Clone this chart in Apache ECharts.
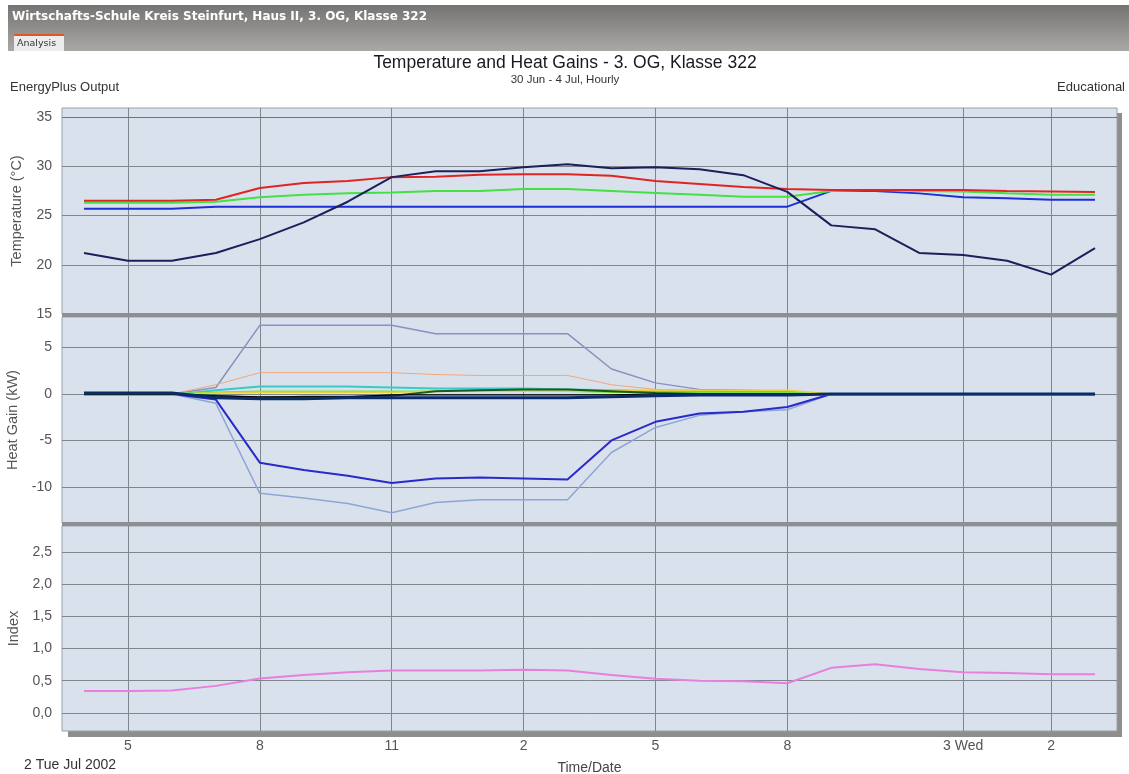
<!DOCTYPE html>
<html>
<head>
<meta charset="utf-8">
<script src="https://cdn.jsdelivr.net/npm/echarts@6/dist/echarts.min.js"></script>
<style>
html,body{margin:0;padding:0;background:#fff;}
#c{width:1129px;height:774px;}
</style>
</head>
<body>
<div id="c"></div>
<script>
// ---- data (hour of day, 4 = 4 AM Tue 2 Jul ... 27 = 3 AM Wed 3 Jul) ----
const hours = [4,5,6,7,8,9,10,11,12,13,14,15,16,17,18,19,20,21,22,23,24,25,26,27];
const xTickHours = [5,8,11,14,17,20,24,26];
const xTickLabels = ['5','8','11','2','5','8','3 Wed','2'];
const tempTicks = [15,20,25,30,35];
const gainTicks = [-10,-5,0,5];
const indexTicks = [0,0.5,1,1.5,2,2.5];

// Temperature panel (°C)
const tempOutdoor = [21.2,20.4,20.4,21.2,22.6,24.3,26.4,28.9,29.5,29.5,29.9,30.2,29.8,29.9,29.7,29.1,27.4,24.0,23.6,21.2,21.0,20.4,19.0,21.7];
const tempAir     = [26.5,26.5,26.5,26.6,27.8,28.3,28.5,28.9,28.95,29.15,29.2,29.2,29.05,28.5,28.2,27.9,27.7,27.6,27.6,27.6,27.6,27.5,27.45,27.4];
const tempRadiant = [26.3,26.3,26.3,26.4,26.85,27.1,27.25,27.35,27.5,27.5,27.7,27.7,27.5,27.3,27.1,26.9,26.9,27.5,27.6,27.5,27.45,27.25,27.1,27.1];
const tempSetpt   = [25.7,25.7,25.7,25.9,25.9,25.9,25.9,25.9,25.9,25.9,25.9,25.9,25.9,25.9,25.9,25.9,25.9,27.5,27.5,27.25,26.85,26.75,26.6,26.6];

// Heat gain panel (kW)
const gainSolar    = [0,0,0,0.7,7.4,7.4,7.4,7.4,6.5,6.5,6.5,6.5,2.7,1.2,0.5,0.4,0.3,0,0,0,0,0,0,0];
const gainOccup    = [0,0,0,1.0,2.3,2.3,2.3,2.3,2.1,2.0,2.0,2.0,1.0,0.5,0.4,0.3,0.3,0,0,0,0,0,0,0];
const gainLight    = [-0.1,-0.1,-0.1,0.4,0.8,0.8,0.8,0.7,0.6,0.6,0.6,0.5,0.4,0.3,0.3,0.3,0.3,-0.1,-0.1,-0.1,-0.1,-0.1,-0.1,-0.1];
const gainEquip    = [0,0,0,0.2,0.3,0.3,0.3,0.3,0.3,0.3,0.3,0.3,0.2,0.2,0.2,0.2,0.2,0,0,0,0,0,0,0];
const gainWalls    = [0,0,0,0.1,0.2,0.2,0.2,0.2,0.3,0.3,0.3,0.3,0.4,0.4,0.4,0.4,0.4,0,0,0,0,0,0,0];
const gainRoof     = [0,0,0,-0.2,-0.4,-0.3,-0.3,-0.2,0.3,0.4,0.5,0.5,0.3,0.1,0,0,0,0,0,0,0,0,0,0];
const gainFloor    = [0,0,0,-0.2,-0.3,-0.3,-0.3,-0.1,-0.1,-0.1,-0.1,-0.1,-0.1,0,0,0,0,0,0,0,0,0,0,0];
const gainGlazing  = [0.1,0.1,0.1,-0.4,-0.5,-0.5,-0.4,-0.4,-0.4,-0.4,-0.4,-0.4,-0.3,-0.2,-0.1,-0.1,-0.1,0,0,0,0,0,0,0];
const gainVent     = [0,0,0,-0.6,-7.4,-8.2,-8.8,-9.6,-9.1,-9.0,-9.1,-9.2,-5.0,-3.0,-2.1,-1.9,-1.4,0,0,0,0,0,0,0];
const gainCooling  = [0,0,0,-1.0,-10.7,-11.2,-11.8,-12.8,-11.7,-11.4,-11.4,-11.4,-6.3,-3.6,-2.3,-1.9,-1.7,0,0,0,0,0,0,0];

// Index panel
const indexVals = [0.34,0.34,0.35,0.42,0.535,0.59,0.63,0.66,0.66,0.66,0.67,0.66,0.59,0.53,0.50,0.49,0.46,0.70,0.755,0.68,0.63,0.62,0.60,0.60];

// ---- layout ----
const L = 62, R = 1117, W = R - L;
const g0 = {top:108, bottom:314};
const g1 = {top:317, bottom:523};
const g2 = {top:526, bottom:731};
const gridColor = '#7f868d';
const FF = 'Liberation Sans, Arial, sans-serif';

function pairs(arr){ return hours.map((h,i)=>[h,arr[i]]); }

function xAxis(idx, g, showLabels){
  return {
    type:'value', gridIndex:idx, min:3.5, max:27.5, position:'bottom',
    axisLine:{show:false, onZero:false},
    splitLine:{show:false},
    axisTick:{show:true, inside:true, length:g.bottom-g.top, customValues:xTickHours,
      lineStyle:{color:gridColor, width:1}},
    axisLabel: showLabels ? {show:true, customValues:xTickHours, margin:8, color:'#555', fontFamily:FF, fontSize:14,
      formatter:(v)=>{const k=xTickHours.indexOf(v); return k>=0?xTickLabels[k]:'';}} : {show:false},
    name: showLabels ? 'Time/Date' : '',
    nameLocation:'middle', nameGap:30,
    nameTextStyle:{color:'#444', fontFamily:FF, fontSize:14}
  };
}
function yAxis(idx, min, max, ticks, name, fmt){
  return {
    type:'value', gridIndex:idx, min:min, max:max, position:'left',
    axisLine:{show:false, onZero:false},
    splitLine:{show:false},
    axisTick:{show:true, inside:true, length:W, customValues:ticks, lineStyle:{color:gridColor, width:1}},
    axisLabel:{show:true, customValues:ticks, margin:10, color:'#555', fontFamily:FF, fontSize:14,
      formatter:fmt||((v)=>String(v))},
    name:name, nameLocation:'middle', nameRotate:90, nameGap:38,
    nameTextStyle:{color:'#555', fontFamily:FF, fontSize:14.5}
  };
}
function line(name, xi, data, color, width, z){
  return {name:name, type:'line', xAxisIndex:xi, yAxisIndex:xi, data:pairs(data),
    showSymbol:false, symbol:'none', smooth:false, z:z||2,
    lineStyle:{color:color, width:width}};
}
function grid(g){
  return {left:L, width:W, top:g.top, height:g.bottom-g.top, show:true, containLabel:false,
    outerBoundsMode:'none', backgroundColor:'#d9e2ec', borderColor:'#9aa0a6', borderWidth:1};
}

const chart = echarts.init(document.getElementById('c'), null, {renderer:'canvas'});
chart.setOption({
  animation:false,
  backgroundColor:'#ffffff',
  grid:[grid(g0), grid(g1), grid(g2)],
  xAxis:[xAxis(0,g0,false), xAxis(1,g1,false), xAxis(2,g2,true)],
  yAxis:[
    yAxis(0, 15, 35.92, tempTicks, 'Temperature (°C)'),
    yAxis(1, -13.9, 8.3, gainTicks, 'Heat Gain (kW)'),
    yAxis(2, -0.28, 2.9, indexTicks, 'Index', (v)=>v.toFixed(1).replace('.',','))
  ],
  graphic:[
    {type:'rect', shape:{x:8,y:5,width:1121,height:46}, style:{fill:new echarts.graphic.LinearGradient(0,0,0,1,[{offset:0,color:'#767472'},{offset:1,color:'#aaa8a5'}])}, z:-1},
    {type:'text', x:12, y:17, style:{text:'Wirtschafts-Schule Kreis Steinfurt, Haus II, 3. OG, Klasse 322', fill:'#ffffff', font:'bold 12px "DejaVu Sans", Verdana, sans-serif', textVerticalAlign:'middle'}},
    {type:'rect', shape:{x:14,y:36,width:50,height:15}, style:{fill:'#ececec'}},
    {type:'rect', shape:{x:14,y:34,width:50,height:2}, style:{fill:'#e0562a'}},
    {type:'text', x:17, y:44, style:{text:'Analysis', fill:'#333', font:'9.5px "DejaVu Sans", sans-serif', textVerticalAlign:'middle'}},
    {type:'text', x:565, y:63, style:{text:'Temperature and Heat Gains - 3. OG, Klasse 322', fill:'#1a1a1a', font:'17.5px "Liberation Sans", Arial, sans-serif', textAlign:'center', textVerticalAlign:'middle'}},
    {type:'text', x:565, y:80, style:{text:'30 Jun - 4 Jul, Hourly', fill:'#333', font:'11.5px "Liberation Sans", Arial, sans-serif', textAlign:'center', textVerticalAlign:'middle'}},
    {type:'text', x:10, y:87, style:{text:'EnergyPlus Output', fill:'#333', font:'13px "Liberation Sans", Arial, sans-serif', textVerticalAlign:'middle'}},
    {type:'text', x:1125, y:87, style:{text:'Educational', fill:'#333', font:'13px "Liberation Sans", Arial, sans-serif', textAlign:'right', textVerticalAlign:'middle'}},
    {type:'text', x:24, y:765, style:{text:'2 Tue Jul 2002', fill:'#333', font:'14px "Liberation Sans", Arial, sans-serif', textVerticalAlign:'middle'}},
    // panel separators and drop shadow
    {type:'rect', shape:{x:L,y:g0.bottom-1,width:W,height:4}, style:{fill:'#8c9095'}, z:5},
    {type:'rect', shape:{x:L,y:g1.bottom-1,width:W,height:4}, style:{fill:'#8c9095'}, z:5},
    {type:'rect', shape:{x:L,y:g0.top+9,width:W,height:1}, style:{fill:'#6f757b'}, z:5},
    {type:'rect', shape:{x:68,y:g2.bottom,width:R-68+5,height:6}, style:{fill:'#8e8e8e'}, z:-1},
    {type:'rect', shape:{x:R,y:113,width:5,height:g2.bottom-113+6}, style:{fill:'#8e8e8e'}, z:-1}
  ],
  series:[
    line('Zone setpoint', 0, tempSetpt, '#1c2ed6', 2, 2),
    line('Radiant temperature', 0, tempRadiant, '#44e044', 2, 3),
    line('Air temperature', 0, tempAir, '#e02424', 2, 4),
    line('Outside dry-bulb', 0, tempOutdoor, '#1b1f5c', 2, 5),

    line('Solar gains', 1, gainSolar, '#8890c4', 1.5, 2),
    line('Occupancy', 1, gainOccup, '#f2a77c', 1, 2),
    line('Zone cooling', 1, gainCooling, '#8ea6d6', 1.5, 2),
    line('Mech vent + nat vent', 1, gainVent, '#2a2acc', 2, 3),
    line('Lighting', 1, gainLight, '#3cc8c8', 2, 3),
    line('Computer + equip', 1, gainEquip, '#7ae040', 1.5, 3),
    line('Walls', 1, gainWalls, '#e6d23c', 1.5, 3),
    line('Roofs', 1, gainRoof, '#1a5a1a', 2, 3),
    line('Floors', 1, gainFloor, '#000000', 1.2, 3),
    line('Glazing', 1, gainGlazing, '#0b2b6b', 3, 4),

    line('Discomfort index', 2, indexVals, '#e680dc', 2, 3)
  ]
});
</script>
</body>
</html>
